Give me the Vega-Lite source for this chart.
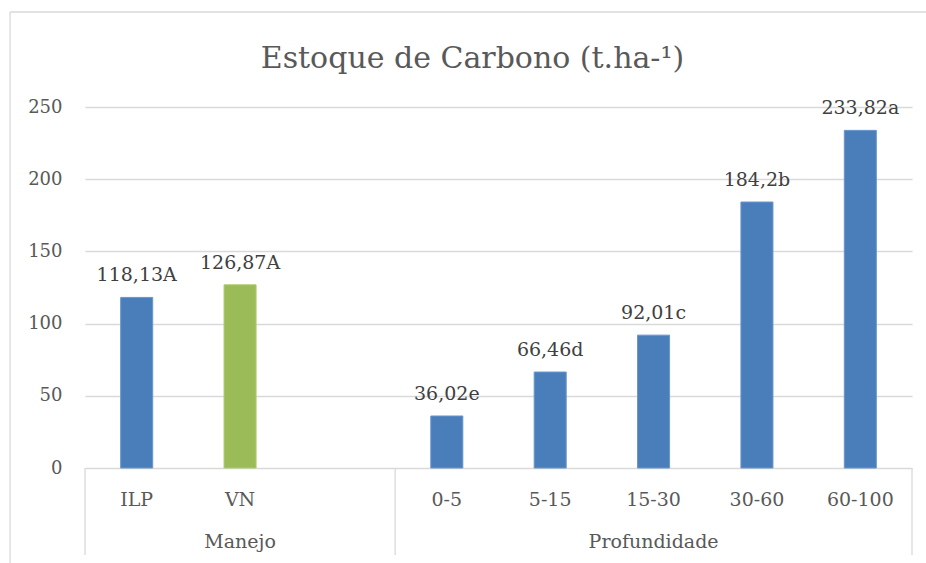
{
  "$schema": "https://vega.github.io/schema/vega-lite/v6.json",
  "autosize": {"type": "none"},
  "padding": {"left": 85, "top": 107, "right": 14, "bottom": 95},
  "width": 827,
  "height": 361,
  "background": "white",
  "title": {
    "text": "Estoque de Carbono (t.ha-¹)",
    "font": "DejaVu Serif",
    "fontSize": 30,
    "fontWeight": "normal",
    "color": "#595959",
    "anchor": "middle",
    "baseline": "alphabetic",
    "dx": -26,
    "offset": -87
  },
  "config": {
    "view": {"stroke": null},
    "font": "DejaVu Serif"
  },
  "layer": [
    {
      "data": {"values": [
        {"cat": "ILP", "value": 118.13, "label": "118,13A", "group": "Manejo-ILP"},
        {"cat": "VN", "value": 126.87, "label": "126,87A", "group": "Manejo-VN"},
        {"cat": "0-5", "value": 36.02, "label": "36,02e", "group": "Profundidade"},
        {"cat": "5-15", "value": 66.46, "label": "66,46d", "group": "Profundidade"},
        {"cat": "15-30", "value": 92.01, "label": "92,01c", "group": "Profundidade"},
        {"cat": "30-60", "value": 184.2, "label": "184,2b", "group": "Profundidade"},
        {"cat": "60-100", "value": 233.82, "label": "233,82a", "group": "Profundidade"}
      ]},
      "encoding": {
        "x": {
          "field": "cat", "type": "nominal",
          "scale": {"domain": ["ILP", "VN", " ", "0-5", "5-15", "15-30", "30-60", "60-100"], "paddingInner": 0.69, "paddingOuter": 0.345},
          "axis": {"title": null, "labelAngle": 0, "domain": false, "ticks": false, "labelPadding": 22, "labelFontSize": 19, "labelColor": "#595959", "labelFont": "DejaVu Serif"}
        },
        "y": {
          "field": "value", "type": "quantitative",
          "scale": {"domain": [0, 250], "nice": false, "zero": true},
          "axis": {"title": null, "values": [0, 50, 100, 150, 200, 250], "domain": false, "ticks": false, "labelPadding": 23, "labelFontSize": 18, "labelColor": "#595959", "gridColor": "#D9D9D9", "gridWidth": 1.3, "labelFont": "DejaVu Serif"}
        }
      },
      "layer": [
        {
          "mark": {"type": "bar", "strokeWidth": 1},
          "encoding": {
            "color": {"field": "group", "type": "nominal", "legend": null,
              "scale": {"domain": ["Manejo-ILP", "Manejo-VN", "Profundidade"], "range": ["#4A7EBB", "#9BBB59", "#4A7EBB"]}},
            "stroke": {"field": "group", "type": "nominal", "legend": null,
              "scale": {"domain": ["Manejo-ILP", "Manejo-VN", "Profundidade"], "range": ["#6A96CC", "#AFCB73", "#6A96CC"]}}
          }
        },
        {
          "mark": {"type": "text", "dy": -22, "fontSize": 19, "color": "#404040", "font": "DejaVu Serif"},
          "encoding": {"text": {"field": "label"}}
        }
      ]
    },
    {
      "data": {"values": [
        {"pos": 0, "y0": 0, "y1": -60.2},
        {"pos": 3, "y0": 0, "y1": -60.2},
        {"pos": 8, "y0": 0, "y1": -60.2},
        {"pos": -0.725, "y0": 315.8, "y1": -75}
      ]},
      "mark": {"type": "rule", "color": "#D9D9D9", "strokeWidth": 1.3},
      "encoding": {
        "x": {"field": "pos", "type": "quantitative", "scale": {"domain": [0, 8], "nice": false, "zero": false}, "axis": null},
        "y": {"field": "y0", "type": "quantitative"},
        "y2": {"field": "y1"}
      }
    },
    {
      "data": {"values": [
        {"pos": -0.725, "pos2": 8.2, "yv": 315.8}
      ]},
      "mark": {"type": "rule", "color": "#D9D9D9", "strokeWidth": 1.3},
      "encoding": {
        "x": {"field": "pos", "type": "quantitative", "scale": {"domain": [0, 8], "nice": false, "zero": false}, "axis": null},
        "x2": {"field": "pos2"},
        "y": {"field": "yv", "type": "quantitative"}
      }
    },
    {
      "data": {"values": [
        {"pos": 1.5, "yv": -51, "name": "Manejo"},
        {"pos": 5.5, "yv": -51, "name": "Profundidade"}
      ]},
      "mark": {"type": "text", "fontSize": 19, "color": "#595959", "font": "DejaVu Serif", "baseline": "middle"},
      "encoding": {
        "x": {"field": "pos", "type": "quantitative", "scale": {"domain": [0, 8], "nice": false, "zero": false}, "axis": null},
        "y": {"field": "yv", "type": "quantitative"},
        "text": {"field": "name"}
      }
    }
  ],
  "resolve": {"scale": {"x": "independent"}}
}
